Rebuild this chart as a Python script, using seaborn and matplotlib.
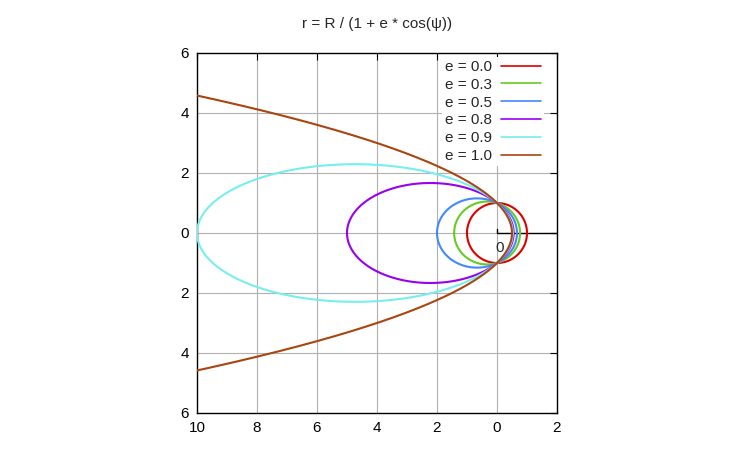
import numpy as np
import pandas as pd
import matplotlib
matplotlib.use("Agg")
import matplotlib.pyplot as plt
import seaborn as sns

# Data
R = 1.0
eccentricities = [0.0, 0.3, 0.5, 0.8, 0.9, 1.0]
labels = ["e = 0.0", "e = 0.3", "e = 0.5", "e = 0.8", "e = 0.9", "e = 1.0"]
colors = ["#dd0000", "#66cc22", "#4488ff", "#9900ee", "#77eeee", "#aa4411"]
xticks = [-10, -8, -6, -4, -2, 0, 2]
yticks = [-6, -4, -2, 0, 2, 4, 6]
title = "r = R / (1 + e * cos(\u03c8))"

rows = []
psi = np.linspace(-np.pi, np.pi, 2001)
for e, lab in zip(eccentricities, labels):
    den = 1 + e * np.cos(psi)
    ok = den > 1e-3
    r = R / den[ok]
    p = psi[ok]
    x = r * np.cos(p)
    y = r * np.sin(p)
    for i, (xx, yy) in enumerate(zip(x, y)):
        rows.append((lab, i, xx, yy))
df = pd.DataFrame(rows, columns=["curve", "i", "x", "y"])

sns.set_style("white")
plt.rcParams["font.family"] = ["Liberation Sans", "DejaVu Sans"]

fig = plt.figure(figsize=(7.5, 4.5), dpi=100)
ax = fig.add_axes([197 / 750, 37 / 450, 360 / 750, 360 / 450])

# grid
for gx in xticks[1:-1]:
    ax.axvline(gx, color="#b0b0b0", lw=0.8, zorder=0)
for gy in yticks[1:-1]:
    ax.axhline(gy, color="#b0b0b0", lw=0.8, zorder=0)
ax.plot([0, 2], [0, 0], color="black", lw=1.0, zorder=1)
ax.plot([0, 0], [0, 0.15], color="black", lw=1.0, zorder=1)
ax.text(0.08, -0.25, "0", ha="center", va="top", fontsize=11)

sns.lineplot(data=df, x="x", y="y", hue="curve", units="curve", estimator=None,
             sort=False, palette=dict(zip(labels, colors)), hue_order=labels,
             lw=1.5, ax=ax, zorder=3)

ax.set_xlim(-10, 2)
ax.set_ylim(-6, 6)
ax.set_xticks(xticks)
ax.set_xticklabels([str(abs(t)) for t in xticks])
ax.set_yticks(yticks)
ax.set_yticklabels([str(abs(t)) for t in yticks])
ax.tick_params(direction="in", top=True, right=True, length=5, width=0.8,
               labelsize=11, pad=6, colors="black")
ax.set_xlabel("")
ax.set_ylabel("")
for s in ax.spines.values():
    s.set_color("black")
    s.set_linewidth(1.0)
    s.set_visible(True)

leg = ax.legend(loc="upper right", bbox_to_anchor=(0.964, 0.989),
                markerfirst=False, frameon=True,
                fontsize=11, handlelength=2.6, handletextpad=0.6,
                labelspacing=0.25, borderaxespad=0.0, borderpad=0.2)
leg.get_frame().set_facecolor("white")
leg.get_frame().set_edgecolor("none")
leg.get_frame().set_alpha(1.0)
leg.set_zorder(5)
for h in leg.get_lines():
    h.set_linewidth(1.2)

fig.text(377 / 750, 1 - 24 / 450, title, ha="center", va="center", fontsize=11)

fig.savefig("out.png", dpi=100, facecolor="white")
